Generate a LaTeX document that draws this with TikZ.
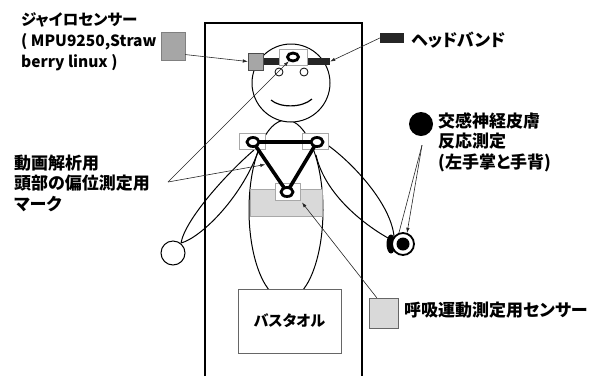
\documentclass[tikz,border=0pt]{standalone}
\usepackage{fontspec}
\setmainfont{Noto Sans CJK JP}[RawFeature=+palt]
\newfontfamily\heavy{Noto Sans CJK JP Black}[RawFeature=+palt]
\usetikzlibrary{positioning, arrows.meta, shapes.geometric, calc}
\definecolor{sensorgray}{HTML}{A6A6A6}
\definecolor{beltgray}{HTML}{D9D9D9}
\definecolor{framegray}{HTML}{A8A8A8}

\begin{document}
\begin{tikzpicture}[x=1pt, y=-1pt,
    note/.style={font=\heavy\fontsize{17}{20.5}\selectfont, align=left, inner sep=0pt, anchor=west},
    pointer/.style={draw=black!85, line width=0.6pt, -{Latex[length=5pt,width=3.5pt]}},
    body/.style={draw, line width=1pt},
    markbox/.style={draw=framegray, fill=white, line width=0.5pt, minimum width=26pt, minimum height=16pt, inner sep=0pt},
    ring/.style={ellipse, draw, line width=2.8pt, fill=white, minimum width=12pt, minimum height=9pt, inner sep=0pt},
    strap/.style={fill=black!85, minimum height=7pt, inner sep=0pt}]

  \useasboundingbox (0,0) rectangle (605,376);

  % bed
  \draw[line width=1.3pt] (205,376) -- (205,23) -- (362,23) -- (362,376);

  % body, head and face
  \draw[body] (286,210) ellipse [x radius=37pt, y radius=90pt];
  \draw[body, fill=white] (291,83) circle [radius=39pt];
  \draw[line width=0.8pt] (279,72) circle [radius=4pt] (304,72) circle [radius=4pt];
  \draw[line width=1.2pt] (271,100) .. controls (280,108) and (302,108) .. (312,99);

  % arms
  \draw[body] (181,243) .. controls (185,220) and (225,175) .. (254,150)
              (181,243) .. controls (200,238) and (240,200) .. (258,152);
  \node[body, circle, minimum size=24pt, inner sep=0pt] (handL) at (173,253) {};
  \draw[body] (320,140) .. controls (345,155) and (390,200) .. (394,236)
              (316,155) .. controls (325,195) and (365,225) .. (388,238);
  \fill (391,244) ellipse [x radius=4.5pt, y radius=9.5pt];
  \node[circle, draw, line width=1.8pt, fill=white, minimum size=22pt, inner sep=0pt] (handR) at (403,244) {};
  \fill (handR) circle [radius=6.5pt];

  % breathing belt and marks
  \node[draw=framegray, fill=beltgray, minimum width=72pt, minimum height=27pt, inner sep=0pt] (belt) at (286,202.5) {};
  \node[markbox] (boxL) at (252,141) {};
  \node[markbox] (boxR) at (315,141) {};
  \node[markbox, minimum width=25pt, minimum height=17pt] (boxC) at (287.5,191.5) {};
  \coordinate (mL) at (253,142);
  \coordinate (mR) at (317,142);
  \coordinate (mC) at (287,192);
  \draw[line width=3.6pt, line join=round] (mL) -- (mR) -- (mC) -- cycle;
  \node[ring] (markL) at (mL) {};
  \node[ring] (markR) at (mR) {};
  \node[ring] (markC) at (mC) {};

  % towel
  \node[draw=black!60, fill=white, line width=0.6pt, minimum width=103pt, minimum height=64pt,
        font=\heavy\fontsize{15}{18}\selectfont] (towel) at (289.5,321) {バスタオル};

  % head band, gyro and head mark
  \node[strap, minimum width=15pt] (bandL) at (271.5,61.5) {};
  \node[strap, minimum width=23pt] (bandR) at (318.5,61.5) {};
  \node[draw=black!70, fill=sensorgray, minimum width=15pt, minimum height=17pt, inner sep=0pt] (gyro) at (255.5,61.5) {};
  \node[markbox, minimum width=28pt, minimum height=16pt] (boxH) at (293,57) {};
  \node[ring, minimum width=11pt, minimum height=8pt] (markH) at (293,57) {};

  % keys
  \node[draw=black!50, fill=sensorgray, minimum width=24pt, minimum height=28pt, inner sep=0pt] (gyrokey) at (173,46) {};
  \node[strap, minimum width=24pt, minimum height=10pt] (bandkey) at (392,38) {};
  \node[circle, fill=black, minimum size=24pt, inner sep=0pt] (edakey) at (421,124) {};
  \node[draw=black!60, fill=beltgray, minimum width=29pt, minimum height=30pt, inner sep=0pt] (beltkey) at (383.5,313) {};

  \node[note, font=\heavy\fontsize{15.5}{21}\selectfont] (gyrotext) at (21,42) {ジャイロセンサー\\( MPU9250,Straw\\berry linux )};
  \node[note] (bandtext) at (411,40) {ヘッドバンド};
  \node[note] (edatext) at (438,142) {交感神経皮膚\\反応測定\\(左手掌と手背)};
  \node[note] (marktext) at (14,183) {動画解析用\\頭部の偏位測定用\\マーク};
  \node[note] (belttext) at (404,310) {呼吸運動測定用センサー};

  % pointers
  \draw[pointer] (gyrokey.-35) -- (gyro.west);
  \draw[pointer] (bandkey.west) -- (bandR.east);
  \coordinate (fork) at (168,182);
  \draw[pointer] (fork) -- (markH);
  \draw[pointer] (fork) -- ($(mL)!0.45!(mC)+(-3,0)$);
  \draw[pointer] ($(beltkey.north west)+(8,0)$) -- ($(belt.center)+(16,0)$);
  \coordinate (edafork) at ($(edakey.south)+(1,9)$);
  \draw[draw=black!85, line width=0.6pt] (edafork) -- (handR.110);
  \draw[pointer] (edafork) -- (handR.70);
\end{tikzpicture}
\end{document}
